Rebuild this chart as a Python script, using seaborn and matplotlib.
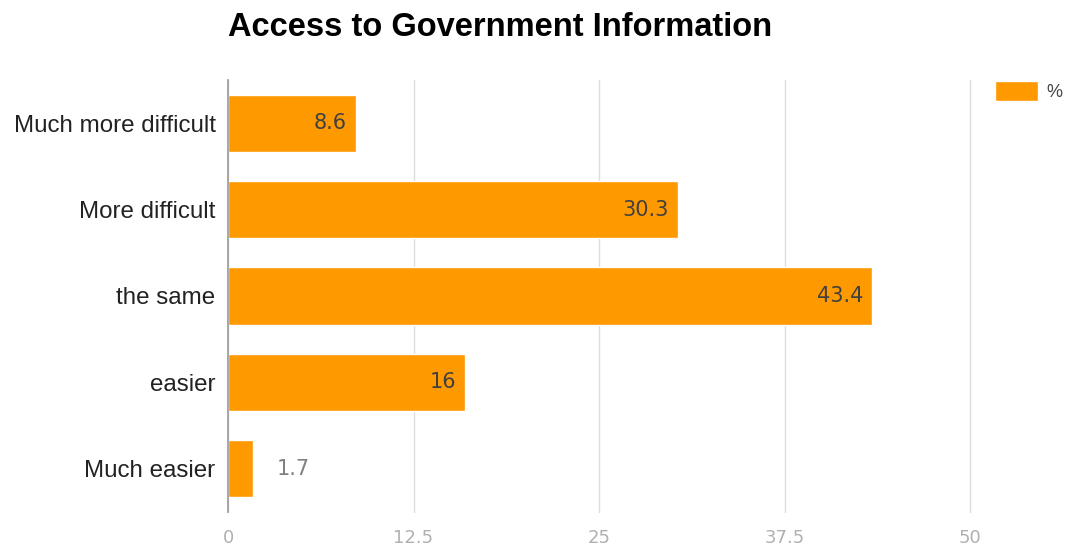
import pandas as pd
import matplotlib.pyplot as plt
import seaborn as sns

categories = ["Much more difficult", "More difficult", "the same", "easier", "Much easier"]
values = [8.6, 30.3, 43.4, 16, 1.7]
value_labels = ["8.6", "30.3", "43.4", "16", "1.7"]
x_ticks = [0, 12.5, 25, 37.5, 50]
x_tick_labels = ["0", "12.5", "25", "37.5", "50"]

sns.set_theme(style="white")
plt.rcParams['font.family'] = ['Liberation Sans', 'DejaVu Sans']

df = pd.DataFrame({"category": categories, "pct": values})

fig = plt.figure(figsize=(10.65, 5.46), dpi=100)
ax = fig.add_axes([228 / 1065, 1 - 512 / 546, (970 - 228) / 1065, (512 - 80) / 546])

sns.barplot(data=df, y="category", x="pct", color="#ff9900", saturation=1,
            width=0.66, ax=ax, label="%")

ax.set_xlim(0, 50)
ax.set_ylim(4.5, -0.5)
ax.set_xticks(x_ticks)
ax.set_xticklabels(x_tick_labels, color="#b0b0b0", fontsize=13, family="DejaVu Sans")
ax.tick_params(axis="x", length=0, pad=12)
ax.tick_params(axis="y", length=0, pad=9, labelsize=17.4, labelcolor="#222222")
ax.set_xlabel("")
ax.set_ylabel("")
ax.grid(axis="x", color="#dddddd", linewidth=1)
for gl in ax.get_xgridlines():
    gl.set_clip_on(False)
ax.set_axisbelow(True)
for s in ["top", "right", "bottom"]:
    ax.spines[s].set_visible(False)
ax.spines["left"].set_color("#999999")
ax.spines["left"].set_linewidth(1.2)
ax.spines["left"].set_zorder(5)

# value labels
for i, (v, lab) in enumerate(zip(values, value_labels)):
    if v > 5:
        ax.text(v - 0.6, i, lab, ha="right", va="center", fontsize=15,
                family="DejaVu Sans", color="#404040")
    else:
        ax.text(v + 1.55, i, lab, ha="left", va="center", fontsize=15,
                family="DejaVu Sans", color="#808080")

leg = ax.legend(loc="upper left", bbox_to_anchor=(995 / 1065, 1 - 81 / 546),
                bbox_transform=fig.transFigure, frameon=False, fontsize=13,
                handlelength=2.4, handleheight=1.35, handletextpad=0.45,
                borderaxespad=0, borderpad=0)
for t in leg.get_texts():
    t.set_color("#444444")

fig.text(228 / 1065, 1 - 27 / 546, "Access to Government Information", fontsize=23.5,
         fontweight="bold", color="#000000", ha="left", va="center")

fig.savefig("out.png", dpi=100)
